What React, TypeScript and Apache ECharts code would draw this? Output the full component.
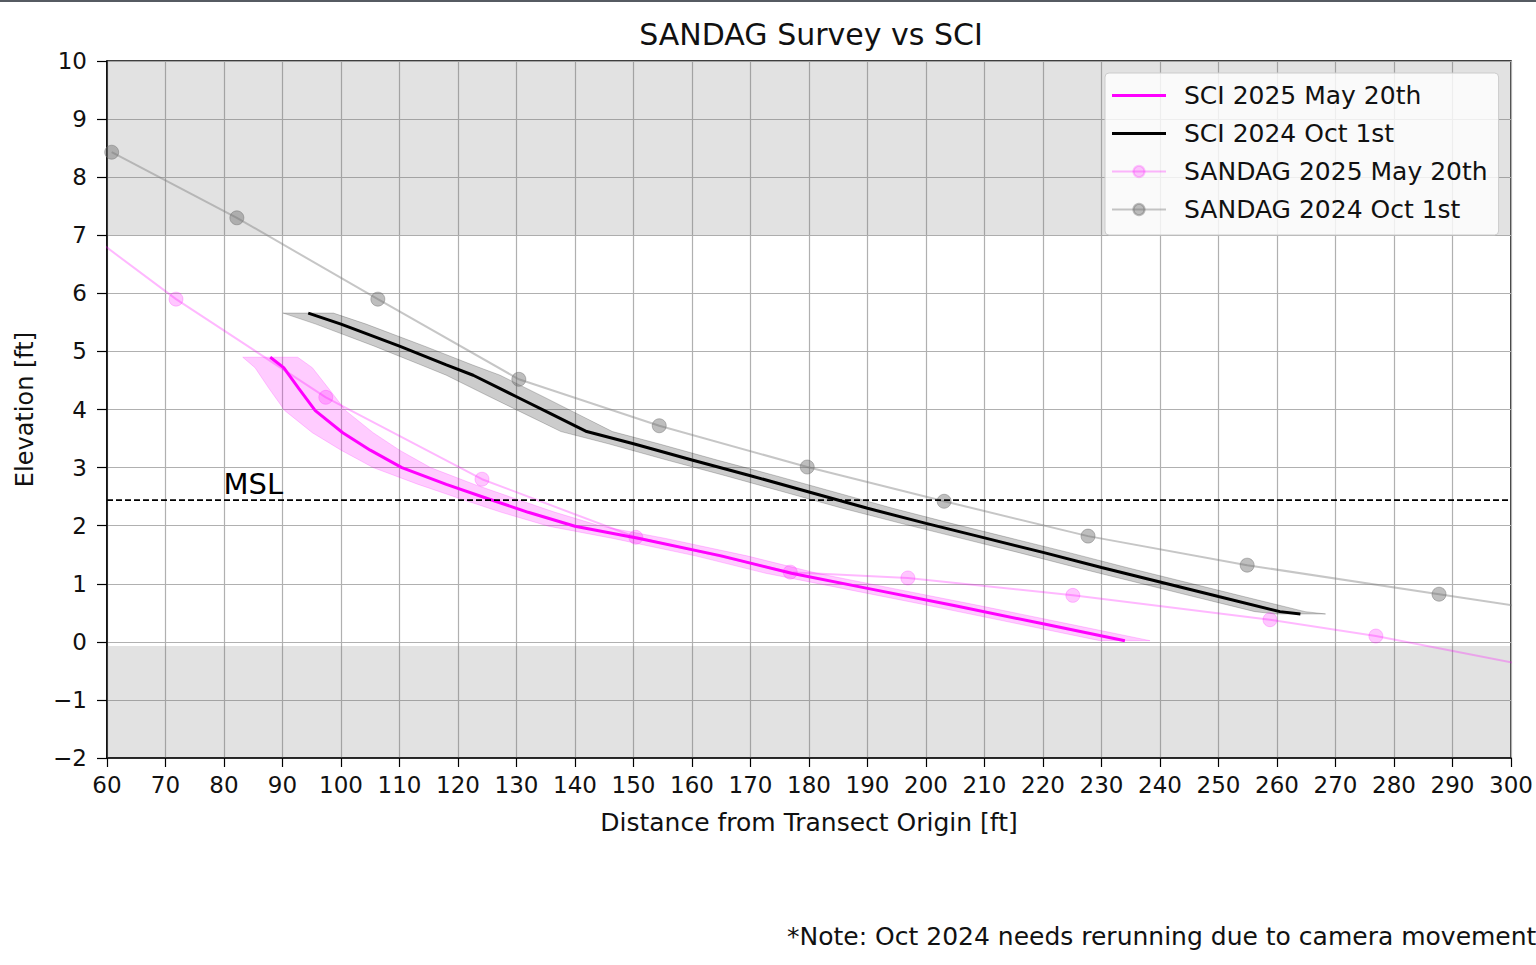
import React, { useEffect, useRef } from "react";
import * as echarts from "echarts";

const FONT = "DejaVu Sans";

const TITLE = "SANDAG Survey vs SCI";
const X_NAME = "Distance from Transect Origin [ft]";
const Y_NAME = "Elevation [ft]";
const NOTE = "*Note: Oct 2024 needs rerunning due to camera movement";

const X_MIN = 60;
const X_MAX = 300;
const Y_MIN = -2;
const Y_MAX = 10;
const MSL = 2.44;
const MSL_LABEL_X = 80;
const UPPER_BAND = [7, 10];
const LOWER_BAND = [-2, -0.07];

// SCI 2025 May 20th (magenta) with horizontal uncertainty (ft)
const sci2025X = [87.9, 90.2, 92.8, 95.6, 100.3, 105, 110.4, 118, 125.5, 132, 140, 151, 165, 177, 190, 205, 220, 234];
const sci2025Y = [4.9, 4.72, 4.36, 3.98, 3.6, 3.3, 3.0, 2.71, 2.45, 2.23, 1.99, 1.78, 1.48, 1.18, 0.92, 0.62, 0.31, 0.02];
const sci2025Spread = [4.7, 4.9, 5.1, 5.2, 5.2, 5.0, 4.9, 4.8, 4.7, 4.6, 4.5, 4.5, 4.4, 4.4, 4.3, 4.3, 4.3, 4.3];

// SCI 2024 Oct 1st (black)
const sci2024X = [94.4, 100, 110, 118, 122.6, 130, 136, 142, 150, 160, 170, 180, 190, 200, 210, 220, 230, 240, 250, 260.5, 264];
const sci2024Y = [5.66, 5.47, 5.09, 4.77, 4.59, 4.22, 3.92, 3.62, 3.41, 3.13, 2.86, 2.58, 2.3, 2.04, 1.79, 1.54, 1.28, 1.03, 0.78, 0.52, 0.48];
const sci2024Spread = [4.3, 4.3, 4.3, 4.4, 4.6, 4.6, 4.5, 4.4, 4.3, 4.3, 4.3, 4.3, 4.3, 4.3, 4.3, 4.3, 4.3, 4.3, 4.3, 4.3, 4.3];

// SANDAG surveys
const sandag2025X = [46, 71.8, 97.4, 124.1, 150.4, 176.8, 196.9, 225.1, 258.8, 276.9, 303];
const sandag2025Y = [7.84, 5.9, 4.21, 2.8, 1.8, 1.2, 1.1, 0.8, 0.38, 0.1, -0.41];
const sandag2024X = [60.8, 82.2, 106.3, 130.4, 154.4, 179.7, 203.1, 227.7, 254.9, 287.7, 312];
const sandag2024Y = [8.43, 7.3, 5.9, 4.52, 3.72, 3.01, 2.42, 1.82, 1.32, 0.82, 0.45];

const LINE_ICON = "path://M0,0 L54,0 L54,3 L0,3 Z";

const zip = (xs: number[], ys: number[]) => xs.map((x, i) => [x, ys[i]]);

function bandSeries(xs: number[], ys: number[], spread: number[], color: string, z: number) {
  const data = xs.map((x, i) => [x, ys[i], spread[i]]);
  return {
    type: "custom",
    name: "band",
    silent: true,
    clip: true,
    z,
    data,
    encode: { x: 0, y: 1 },
    renderItem: (params: any, api: any) => {
      if (params.dataIndex !== 0) return null;
      const left = data.map((d) => api.coord([d[0] - d[2], d[1]]));
      const right = data.map((d) => api.coord([d[0] + d[2], d[1]])).reverse();
      return {
        type: "polygon",
        shape: { points: [...left, ...right] },
        style: { fill: color, stroke: color, lineWidth: 1 },
      };
    },
  };
}

export default function App() {
  const ref = useRef<HTMLDivElement>(null);
  useEffect(() => {
    const chart = echarts.init(ref.current!, null, { renderer: "svg" });
    const option: any = {
      animation: false,
      backgroundColor: "#ffffff",
      textStyle: { fontFamily: FONT },
      title: {
        text: TITLE,
        left: 806,
        textAlign: "center",
        top: 14,
        textStyle: { fontFamily: FONT, fontSize: 30, fontWeight: "normal", color: "#111" },
      },
      legend: {
        orient: "vertical",
        left: 1105,
        top: 73,
        padding: [10, 11, 13, 6],
        backgroundColor: "rgba(255,255,255,0.82)",
        borderColor: "#cccccc",
        borderWidth: 1,
        borderRadius: 4,
        itemWidth: 54,
        itemHeight: 14,
        itemGap: 13,
        data: [
          { name: "SCI 2025 May 20th", icon: LINE_ICON },
          { name: "SCI 2024 Oct 1st", icon: LINE_ICON },
          "SANDAG 2025 May 20th",
          "SANDAG 2024 Oct 1st",
        ],
        textStyle: { fontFamily: FONT, fontSize: 25, lineHeight: 24, color: "#111", padding: [0, 0, 0, 13] },
      },
      grid: {
        left: 107,
        top: 61,
        right: 25,
        bottom: 207,
        show: true,
        borderColor: "#000",
        borderWidth: 1.5,
        backgroundColor: "transparent",
      },
      xAxis: {
        type: "value",
        min: X_MIN,
        max: X_MAX,
        interval: 10,
        name: X_NAME,
        nameLocation: "middle",
        nameGap: 52,
        nameTextStyle: { fontFamily: FONT, fontSize: 25, color: "#111" },
        axisLine: { show: true, onZero: false, lineStyle: { color: "#000", width: 1.5 } },
        axisTick: { show: true, length: 9, lineStyle: { color: "#000", width: 1.2 } },
        axisLabel: { fontFamily: FONT, fontSize: 23, color: "#111", margin: 15 },
        splitLine: { show: true, lineStyle: { color: "#b0b0b0", width: 1.2 } },
      },
      yAxis: {
        type: "value",
        min: Y_MIN,
        max: Y_MAX,
        interval: 1,
        name: Y_NAME,
        nameLocation: "middle",
        nameGap: 70,
        nameRotate: 90,
        nameTextStyle: { fontFamily: FONT, fontSize: 24, color: "#111" },
        axisLine: { show: true, onZero: false, lineStyle: { color: "#000", width: 1.5 } },
        axisTick: { show: true, length: 10, lineStyle: { color: "#000", width: 1.2 } },
        axisLabel: {
          fontFamily: FONT,
          fontSize: 23,
          color: "#111",
          margin: 20,
          formatter: (v: number) => (v < 0 ? "\u2212" + Math.abs(v) : String(v)),
        },
        splitLine: { show: true, lineStyle: { color: "#b0b0b0", width: 1.2 } },
      },
      series: [
        {
          type: "line",
          name: "shade",
          z: 1,
          silent: true,
          symbol: "none",
          data: [],
          markArea: {
            silent: true,
            itemStyle: { color: "rgba(120,120,120,0.21)" },
            data: [
              [{ yAxis: UPPER_BAND[0] }, { yAxis: UPPER_BAND[1] }],
              [{ yAxis: LOWER_BAND[0] }, { yAxis: LOWER_BAND[1] }],
            ],
          },
        },
        bandSeries(sci2025X, sci2025Y, sci2025Spread, "rgba(255,0,255,0.2)", 2),
        bandSeries(sci2024X, sci2024Y, sci2024Spread, "rgba(0,0,0,0.2)", 2),
        {
          type: "line",
          name: "SANDAG 2025 May 20th",
          z: 3,
          data: zip(sandag2025X, sandag2025Y),
          symbol: "circle",
          symbolSize: 14,
          showSymbol: true,
          clip: true,
          color: "rgba(255,0,255,0.25)",
          lineStyle: { color: "rgba(255,0,255,0.28)", width: 2 },
          itemStyle: { color: "rgba(255,0,255,0.22)", borderColor: "rgba(255,0,255,0.22)", borderWidth: 1 },
        },
        {
          type: "line",
          name: "SANDAG 2024 Oct 1st",
          z: 3,
          data: zip(sandag2024X, sandag2024Y),
          symbol: "circle",
          symbolSize: 14,
          showSymbol: true,
          clip: true,
          color: "rgba(110,110,110,0.45)",
          lineStyle: { color: "rgba(128,128,128,0.45)", width: 2 },
          itemStyle: { color: "rgba(110,110,110,0.45)", borderColor: "rgba(110,110,110,0.45)", borderWidth: 1 },
        },
        {
          type: "line",
          name: "SCI 2025 May 20th",
          z: 4,
          data: zip(sci2025X, sci2025Y),
          symbol: "none",
          clip: true,
          color: "#ff00ff",
          lineStyle: { color: "#ff00ff", width: 3 },
        },
        {
          type: "line",
          name: "SCI 2024 Oct 1st",
          z: 4,
          data: zip(sci2024X, sci2024Y),
          symbol: "none",
          clip: true,
          color: "#000000",
          lineStyle: { color: "#000000", width: 3 },
        },
        {
          type: "line",
          name: "MSL",
          z: 5,
          silent: true,
          symbol: "none",
          data: [
            [X_MIN, MSL],
            [X_MAX, MSL],
          ],
          lineStyle: { color: "#000", width: 1.8, type: [6, 3] },
        },
        {
          type: "scatter",
          name: "MSL label",
          z: 6,
          silent: true,
          symbolSize: 1,
          itemStyle: { color: "rgba(0,0,0,0)" },
          data: [[MSL_LABEL_X, MSL]],
          label: {
            show: true,
            formatter: "MSL",
            position: [0, -1],
            align: "left",
            verticalAlign: "bottom",
            fontFamily: FONT,
            fontSize: 29,
            color: "#000",
            opacity: 1,
          },
        },
      ],
      graphic: [
        {
          type: "text",
          left: 787,
          top: 924,
          style: { text: NOTE, font: `25px "${FONT}"`, fill: "#111" },
        },
      ],
    };
    chart.setOption(option);
    return () => chart.dispose();
  }, []);
  return (
    <div style={{ position: "fixed", left: 0, top: 0, width: 1536, height: 965, background: "#fff" }}>
      <div ref={ref} style={{ width: 1536, height: 965 }} />
      <div style={{ position: "absolute", left: 0, top: 0, width: 1536, height: 2, background: "#565b62" }} />
    </div>
  );
}
